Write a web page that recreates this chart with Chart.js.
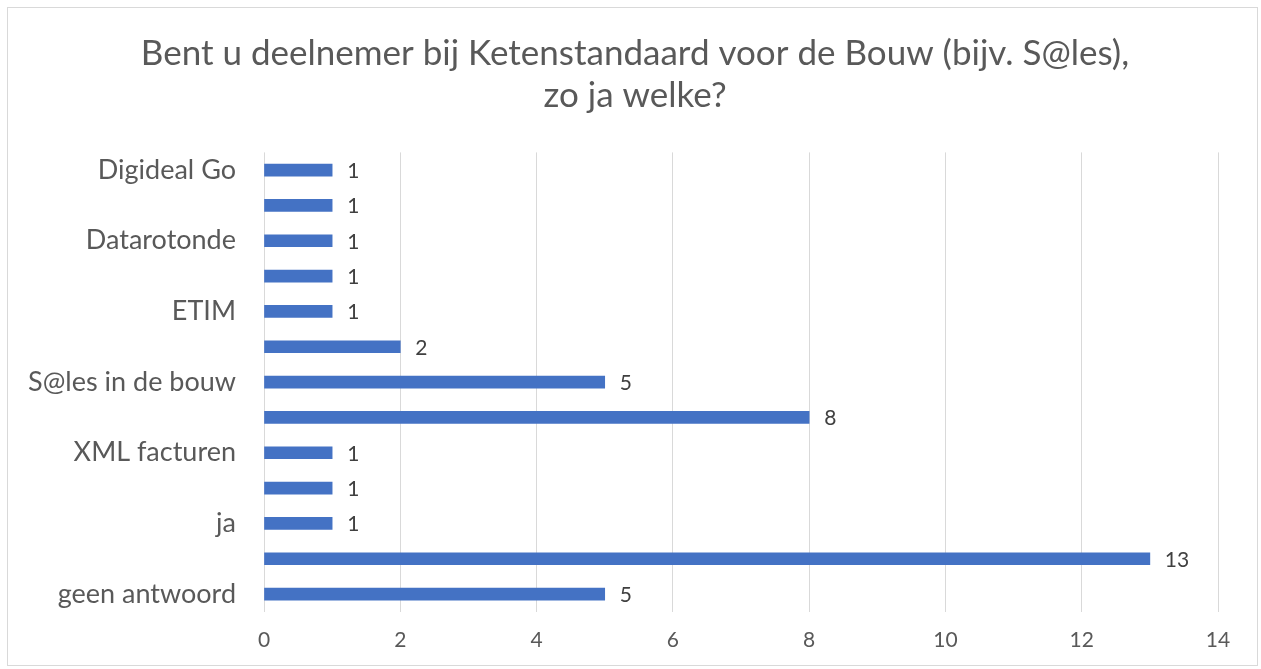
<!DOCTYPE html>
<html>
<head>
<meta charset="utf-8">
<script src="https://cdn.jsdelivr.net/npm/chart.js@4"></script>
<style>
  body { margin: 0; background: #ffffff; }
  #wrap { position: absolute; left: 0; top: 0; width: 1261px; height: 669px; }
  #frame { position: absolute; left: 7px; top: 7px; width: 1249px; height: 657px; border: 1px solid #d9d9d9; pointer-events: none; }
</style>
</head>
<body>
<div id="wrap">
  <canvas id="barChart" width="1261" height="669"></canvas>
</div>
<div id="frame"></div>
<script>
// Categories top to bottom (Excel skipped every other label)
const categories = ['Digideal Go', '', 'Datarotonde', '', 'ETIM', '', 'S@les in de bouw', '', 'XML facturen', '', 'ja', '', 'geen antwoord'];
const counts = [1, 1, 1, 1, 1, 2, 5, 8, 1, 1, 1, 13, 5];
const xTicks = [0, 2, 4, 6, 8, 10, 12, 14];
const titleLines = ['Bent u deelnemer bij Ketenstandaard voor de Bouw (bijv. S@les),', 'zo ja welke?'];

const fontFamily = 'Lato, "Open Sans", sans-serif';
const titleSize = 35;
const titleLineHeight = 1.22;
const titlePadTop = 32;

// Draw the value next to the end of every bar
const valueLabels = {
    id: 'valueLabels',
    afterDatasetsDraw(chart) {
        const ctx = chart.ctx;
        const meta = chart.getDatasetMeta(0);
        ctx.save();
        ctx.font = '21px ' + fontFamily;
        ctx.fillStyle = '#404040';
        ctx.textAlign = 'left';
        ctx.textBaseline = 'middle';
        meta.data.forEach((bar, i) => {
            ctx.fillText(String(counts[i]), bar.x + 15, bar.y + 1);
        });
        ctx.restore();
    }
};

// The built-in title only reserves space; draw it centred on the whole frame
const centredTitle = {
    id: 'centredTitle',
    afterDraw(chart) {
        const ctx = chart.ctx;
        const lh = titleSize * titleLineHeight;
        ctx.save();
        ctx.font = titleSize + 'px ' + fontFamily;
        ctx.fillStyle = '#595959';
        ctx.textAlign = 'center';
        ctx.textBaseline = 'middle';
        titleLines.forEach((line, i) => {
            ctx.fillText(line, 635, chart.titleBlock.top + titlePadTop + lh * (i + 0.5));
        });
        ctx.restore();
    }
};

const ctx = document.getElementById('barChart').getContext('2d');
new Chart(ctx, {
    type: 'bar',
    data: {
        labels: categories,
        datasets: [{
            label: 'Aantal',
            data: counts,
            backgroundColor: '#4472c4',
            barThickness: 12,
        }],
    },
    options: {
        indexAxis: 'y',
        responsive: false,
        animation: false,
        layout: {
            padding: { left: 8, right: 43, top: 0, bottom: 0 },
        },
        plugins: {
            legend: { display: false },
            tooltip: { enabled: false },
            title: {
                display: true,
                text: titleLines,
                color: 'rgba(0,0,0,0)',
                font: { family: fontFamily, size: titleSize, weight: 'normal', lineHeight: titleLineHeight },
                padding: { top: titlePadTop, bottom: 35 },
            },
        },
        scales: {
            x: {
                min: 0,
                max: 14,
                afterBuildTicks(scale) {
                    scale.ticks = xTicks.map(v => ({ value: v }));
                },
                grid: { color: '#d9d9d9', lineWidth: 1, drawTicks: false },
                border: { display: false },
                ticks: {
                    color: '#595959',
                    padding: 16,
                    font: { family: fontFamily, size: 21 },
                },
            },
            y: {
                grid: { display: false, drawTicks: false },
                border: { display: false },
                afterFit(scale) {
                    scale.width = 256;
                },
                ticks: {
                    color: '#595959',
                    padding: 28,
                    autoSkip: false,
                    font: { family: fontFamily, size: 27 },
                },
            },
        },
    },
    plugins: [valueLabels, centredTitle],
});
</script>
</body>
</html>
